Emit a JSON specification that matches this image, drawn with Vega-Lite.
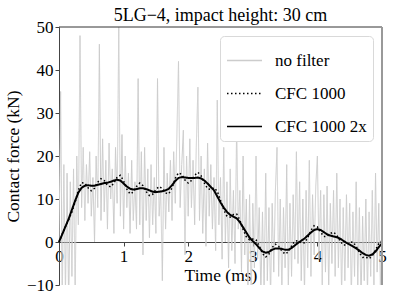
{
  "$schema": "https://vega.github.io/schema/vega-lite/v6.json",
  "width": 323,
  "height": 258,
  "autosize": "none",
  "padding": {"left": 59, "top": 27, "right": 13, "bottom": 19},
  "background": "white",
  "title": {"text": "5LG−4, impact height: 30 cm", "font": "Liberation Serif", "fontSize": 18, "fontWeight": "normal", "color": "black", "anchor": "middle", "offset": -21, "baseline": "alphabetic", "limit": 0},
  "config": {
    "view": {"stroke": null},
    "font": "Liberation Serif",
    "title": {"font": "Liberation Serif", "fontSize": 18, "fontWeight": "normal"},
    "axis": {"grid": false, "labelFont": "Liberation Serif", "labelFontSize": 17, "labelColor": "black", "titleFont": "Liberation Serif", "titleFontSize": 17.5, "titleFontWeight": "normal", "titleColor": "black", "domainColor": "#444", "tickColor": "#444", "tickSize": 4, "labelPadding": 2},
    "legend": {"orient": "top-right", "offset": 9, "fillColor": "white", "strokeColor": "#d9d9d9", "cornerRadius": 4, "padding": 6, "labelFont": "Liberation Serif", "labelFontSize": 17, "labelColor": "black", "symbolType": "stroke", "symbolSize": 1225, "symbolStrokeWidth": 1.5, "labelOffset": 12, "rowPadding": 6}
  },
  "datasets": {
    "raw": [
      {"t":0,"v":0},{"t":0.025,"v":35},{"t":0.05,"v":-14},{"t":0.075,"v":18},{"t":0.1,"v":-12},{"t":0.125,"v":16},{"t":0.15,"v":-15},{"t":0.175,"v":14},{"t":0.2,"v":-8},{"t":0.225,"v":17},{"t":0.25,"v":-12},{"t":0.275,"v":20},
      {"t":0.3,"v":4},{"t":0.325,"v":48},{"t":0.35,"v":8},{"t":0.375,"v":22},{"t":0.4,"v":5},{"t":0.425,"v":18},{"t":0.45,"v":9},{"t":0.475,"v":21},{"t":0.5,"v":6},{"t":0.525,"v":15},{"t":0.55,"v":0},{"t":0.575,"v":20},
      {"t":0.6,"v":8},{"t":0.625,"v":46},{"t":0.65,"v":5},{"t":0.675,"v":24},{"t":0.7,"v":7},{"t":0.725,"v":19},{"t":0.75,"v":3},{"t":0.775,"v":23},{"t":0.8,"v":10},{"t":0.825,"v":17},{"t":0.85,"v":2},{"t":0.875,"v":22},
      {"t":0.9,"v":9},{"t":0.925,"v":50},{"t":0.95,"v":6},{"t":0.975,"v":25},{"t":1.0,"v":3},{"t":1.025,"v":20},{"t":1.05,"v":8},{"t":1.075,"v":16},{"t":1.1,"v":2},{"t":1.125,"v":19},{"t":1.15,"v":5},{"t":1.175,"v":14},
      {"t":1.2,"v":3},{"t":1.225,"v":38},{"t":1.25,"v":4},{"t":1.275,"v":21},{"t":1.3,"v":-3},{"t":1.325,"v":22},{"t":1.35,"v":5},{"t":1.375,"v":17},{"t":1.4,"v":1},{"t":1.425,"v":18},{"t":1.45,"v":4},{"t":1.475,"v":15},
      {"t":1.5,"v":2},{"t":1.525,"v":38},{"t":1.55,"v":6},{"t":1.575,"v":12},{"t":1.6,"v":-9},{"t":1.625,"v":22},{"t":1.65,"v":3},{"t":1.675,"v":16},{"t":1.7,"v":7},{"t":1.725,"v":19},{"t":1.75,"v":5},{"t":1.775,"v":21},
      {"t":1.8,"v":9},{"t":1.825,"v":25},{"t":1.85,"v":42},{"t":1.875,"v":8},{"t":1.9,"v":18},{"t":1.925,"v":26},{"t":1.95,"v":-3},{"t":1.975,"v":20},{"t":2.0,"v":6},{"t":2.025,"v":24},{"t":2.05,"v":8},{"t":2.075,"v":19},
      {"t":2.1,"v":4},{"t":2.125,"v":22},{"t":2.15,"v":36},{"t":2.175,"v":5},{"t":2.2,"v":20},{"t":2.225,"v":2},{"t":2.25,"v":17},{"t":2.275,"v":-1},{"t":2.3,"v":23},{"t":2.325,"v":6},{"t":2.35,"v":18},{"t":2.375,"v":3},
      {"t":2.4,"v":15},{"t":2.425,"v":-2},{"t":2.45,"v":33},{"t":2.475,"v":4},{"t":2.5,"v":15},{"t":2.525,"v":-4},{"t":2.55,"v":22},{"t":2.575,"v":0},{"t":2.6,"v":14},{"t":2.625,"v":-6},{"t":2.65,"v":17},{"t":2.675,"v":-2},
      {"t":2.7,"v":12},{"t":2.725,"v":-5},{"t":2.75,"v":27},{"t":2.775,"v":3},{"t":2.8,"v":12},{"t":2.825,"v":-7},{"t":2.85,"v":20},{"t":2.875,"v":-3},{"t":2.9,"v":10},{"t":2.925,"v":-12},{"t":2.95,"v":11},{"t":2.975,"v":-13},
      {"t":3.0,"v":9},{"t":3.025,"v":-6},{"t":3.05,"v":20},{"t":3.075,"v":-4},{"t":3.1,"v":8},{"t":3.125,"v":-12},{"t":3.15,"v":7},{"t":3.175,"v":-11},{"t":3.2,"v":16},{"t":3.225,"v":-9},{"t":3.25,"v":8},{"t":3.275,"v":-13},
      {"t":3.3,"v":9},{"t":3.325,"v":-7},{"t":3.35,"v":12},{"t":3.375,"v":22},{"t":3.4,"v":-8},{"t":3.425,"v":10},{"t":3.45,"v":-12},{"t":3.475,"v":8},{"t":3.5,"v":-6},{"t":3.525,"v":18},{"t":3.55,"v":-11},{"t":3.575,"v":9},
      {"t":3.6,"v":-8},{"t":3.625,"v":11},{"t":3.65,"v":-4},{"t":3.675,"v":21},{"t":3.7,"v":-5},{"t":3.725,"v":14},{"t":3.75,"v":-9},{"t":3.775,"v":10},{"t":3.8,"v":-12},{"t":3.825,"v":12},{"t":3.85,"v":-6},{"t":3.875,"v":19},
      {"t":3.9,"v":-8},{"t":3.925,"v":11},{"t":3.95,"v":-3},{"t":3.975,"v":13},{"t":4.0,"v":20},{"t":4.025,"v":-4},{"t":4.05,"v":12},{"t":4.075,"v":-10},{"t":4.1,"v":11},{"t":4.125,"v":-7},{"t":4.15,"v":13},{"t":4.175,"v":-11},
      {"t":4.2,"v":9},{"t":4.225,"v":-5},{"t":4.25,"v":12},{"t":4.275,"v":-8},{"t":4.3,"v":16},{"t":4.325,"v":-6},{"t":4.35,"v":10},{"t":4.375,"v":-12},{"t":4.4,"v":8},{"t":4.425,"v":-9},{"t":4.45,"v":11},{"t":4.475,"v":-6},
      {"t":4.5,"v":9},{"t":4.525,"v":-13},{"t":4.55,"v":7},{"t":4.575,"v":-8},{"t":4.6,"v":14},{"t":4.625,"v":-10},{"t":4.65,"v":8},{"t":4.675,"v":-14},{"t":4.7,"v":6},{"t":4.725,"v":-9},{"t":4.75,"v":10},{"t":4.775,"v":-12},
      {"t":4.8,"v":7},{"t":4.825,"v":-8},{"t":4.85,"v":12},{"t":4.875,"v":-11},{"t":4.9,"v":16},{"t":4.925,"v":-7},{"t":4.95,"v":9},{"t":4.975,"v":-10},{"t":5.0,"v":2}
    ],
    "cfc": [
      {"t":0,"v":0},{"t":0.05,"v":1.8},{"t":0.1,"v":3.6},{"t":0.15,"v":5.2},{"t":0.2,"v":7.0},{"t":0.25,"v":9.3},{"t":0.3,"v":12.1},{"t":0.35,"v":13.8},{"t":0.4,"v":13.7},{"t":0.45,"v":12.6},
      {"t":0.5,"v":11.9},{"t":0.55,"v":12.5},{"t":0.6,"v":13.9},{"t":0.65,"v":14.7},{"t":0.7,"v":14.3},{"t":0.75,"v":13.2},{"t":0.8,"v":12.8},{"t":0.85,"v":13.7},{"t":0.9,"v":15.1},{"t":0.95,"v":15.5},
      {"t":1.0,"v":14.2},{"t":1.05,"v":12.3},{"t":1.1,"v":11.2},{"t":1.15,"v":11.6},{"t":1.2,"v":12.9},{"t":1.25,"v":13.7},{"t":1.3,"v":13.1},{"t":1.35,"v":11.7},{"t":1.4,"v":10.8},{"t":1.45,"v":11.1},
      {"t":1.5,"v":12.2},{"t":1.55,"v":12.9},{"t":1.6,"v":12.4},{"t":1.65,"v":11.4},{"t":1.7,"v":11.2},{"t":1.75,"v":12.6},{"t":1.8,"v":14.8},{"t":1.85,"v":16.1},{"t":1.9,"v":15.7},{"t":1.95,"v":14.4},
      {"t":2.0,"v":13.7},{"t":2.05,"v":14.3},{"t":2.1,"v":15.5},{"t":2.15,"v":16.2},{"t":2.2,"v":15.4},{"t":2.25,"v":13.7},{"t":2.3,"v":12.4},{"t":2.35,"v":12.2},{"t":2.4,"v":12.6},{"t":2.45,"v":11.8},
      {"t":2.5,"v":9.7},{"t":2.55,"v":7.5},{"t":2.6,"v":6.0},{"t":2.65,"v":5.8},{"t":2.7,"v":6.4},{"t":2.75,"v":6.5},{"t":2.8,"v":5.1},{"t":2.85,"v":2.9},{"t":2.9,"v":1.2},{"t":2.95,"v":0.5},
      {"t":3.0,"v":0.7},{"t":3.05,"v":0.5},{"t":3.1,"v":-0.9},{"t":3.15,"v":-2.7},{"t":3.2,"v":-3.5},{"t":3.25,"v":-2.8},{"t":3.3,"v":-1.3},{"t":3.35,"v":-0.5},{"t":3.4,"v":-1.0},{"t":3.45,"v":-2.1},
      {"t":3.5,"v":-2.8},{"t":3.55,"v":-2.3},{"t":3.6,"v":-0.9},{"t":3.65,"v":0.2},{"t":3.7,"v":0.3},{"t":3.75,"v":-0.2},{"t":3.8,"v":-0.2},{"t":3.85,"v":1.0},{"t":3.9,"v":2.7},{"t":3.95,"v":3.8},
      {"t":4.0,"v":3.5},{"t":4.05,"v":2.3},{"t":4.1,"v":1.3},{"t":4.15,"v":1.3},{"t":4.2,"v":2.0},{"t":4.25,"v":2.3},{"t":4.3,"v":1.6},{"t":4.35,"v":0.3},{"t":4.4,"v":-0.7},{"t":4.45,"v":-0.7},
      {"t":4.5,"v":-0.1},{"t":4.55,"v":0.0},{"t":4.6,"v":-1.0},{"t":4.65,"v":-2.5},{"t":4.7,"v":-3.6},{"t":4.75,"v":-3.5},{"t":4.8,"v":-3.9},{"t":4.85,"v":-3.2},{"t":4.9,"v":-1.8},{"t":4.95,"v":-0.4},{"t":5.0,"v":0.3}
    ],
    "cfc2": [
      {"t":0,"v":0},{"t":0.05,"v":1.8},{"t":0.1,"v":3.6},{"t":0.15,"v":5.4},{"t":0.2,"v":7.5},{"t":0.25,"v":9.6},{"t":0.3,"v":11.5},{"t":0.35,"v":12.6},{"t":0.4,"v":13.1},{"t":0.45,"v":13.2},
      {"t":0.5,"v":13.1},{"t":0.55,"v":13.1},{"t":0.6,"v":13.3},{"t":0.65,"v":13.5},{"t":0.7,"v":13.7},{"t":0.75,"v":13.8},{"t":0.8,"v":14.0},{"t":0.85,"v":14.3},{"t":0.9,"v":14.5},{"t":0.95,"v":14.3},
      {"t":1.0,"v":13.6},{"t":1.05,"v":12.9},{"t":1.1,"v":12.4},{"t":1.15,"v":12.2},{"t":1.2,"v":12.3},{"t":1.25,"v":12.5},{"t":1.3,"v":12.5},{"t":1.35,"v":12.3},{"t":1.4,"v":12.0},{"t":1.45,"v":11.7},
      {"t":1.5,"v":11.6},{"t":1.55,"v":11.7},{"t":1.6,"v":11.8},{"t":1.65,"v":12.0},{"t":1.7,"v":12.4},{"t":1.75,"v":13.2},{"t":1.8,"v":14.2},{"t":1.85,"v":14.9},{"t":1.9,"v":15.1},{"t":1.95,"v":15.0},
      {"t":2.0,"v":14.9},{"t":2.05,"v":14.9},{"t":2.1,"v":14.9},{"t":2.15,"v":15.0},{"t":2.2,"v":14.8},{"t":2.25,"v":14.3},{"t":2.3,"v":13.6},{"t":2.35,"v":12.8},{"t":2.4,"v":12.0},{"t":2.45,"v":10.6},
      {"t":2.5,"v":9.2},{"t":2.55,"v":8.0},{"t":2.6,"v":7.0},{"t":2.65,"v":6.3},{"t":2.7,"v":5.9},{"t":2.75,"v":5.5},{"t":2.8,"v":4.6},{"t":2.85,"v":3.4},{"t":2.9,"v":2.2},{"t":2.95,"v":1.0},
      {"t":3.0,"v":0.2},{"t":3.05,"v":-0.5},{"t":3.1,"v":-1.4},{"t":3.15,"v":-2.2},{"t":3.2,"v":-2.5},{"t":3.25,"v":-2.3},{"t":3.3,"v":-1.8},{"t":3.35,"v":-1.5},{"t":3.4,"v":-1.5},{"t":3.45,"v":-1.6},
      {"t":3.5,"v":-1.8},{"t":3.55,"v":-1.8},{"t":3.6,"v":-1.4},{"t":3.65,"v":-0.8},{"t":3.7,"v":-0.2},{"t":3.75,"v":0.3},{"t":3.8,"v":0.8},{"t":3.85,"v":1.5},{"t":3.9,"v":2.2},{"t":3.95,"v":2.8},
      {"t":4.0,"v":3.0},{"t":4.05,"v":2.8},{"t":4.1,"v":2.3},{"t":4.15,"v":1.8},{"t":4.2,"v":1.5},{"t":4.25,"v":1.3},{"t":4.3,"v":1.1},{"t":4.35,"v":0.8},{"t":4.4,"v":0.3},{"t":4.45,"v":-0.2},
      {"t":4.5,"v":-0.6},{"t":4.55,"v":-1.0},{"t":4.6,"v":-1.5},{"t":4.65,"v":-2.0},{"t":4.7,"v":-2.6},{"t":4.75,"v":-3.0},{"t":4.8,"v":-3.2},{"t":4.85,"v":-2.9},{"t":4.9,"v":-2.2},{"t":4.95,"v":-1.2},{"t":5.0,"v":-0.3}
    ],
    "frame": [{"a": 0}]
  },
  "layer": [
    {
      "data": {"name": "raw"},
      "mark": {"type": "line", "strokeWidth": 1, "clip": true},
      "encoding": {
        "x": {"field": "t", "type": "quantitative", "scale": {"domain": [0, 5], "nice": false, "zero": false}, "axis": {"title": "Time (ms)", "values": [0, 1, 2, 3, 4, 5], "format": "d", "offset": -43, "titlePadding": 2, "labelFlush": false}},
        "y": {"field": "v", "type": "quantitative", "scale": {"domain": [-10, 50], "nice": false, "zero": false}, "axis": {"title": "Contact force (kN)", "values": [-10, 0, 10, 20, 30, 40, 50], "format": "d", "titlePadding": 4}},
        "color": {"datum": "no filter", "scale": {"domain": ["no filter", "CFC 1000", "CFC 1000 2x"], "range": ["#cccccc", "black", "black"]}, "legend": {"title": null}},
        "strokeDash": {"datum": "no filter", "scale": {"domain": ["no filter", "CFC 1000", "CFC 1000 2x"], "range": [[1, 0], [1.5, 2.5], [1, 0]]}, "legend": {"title": null}}
      }
    },
    {
      "data": {"name": "cfc"},
      "mark": {"type": "line", "strokeWidth": 1.5},
      "encoding": {
        "x": {"field": "t", "type": "quantitative"},
        "y": {"field": "v", "type": "quantitative"},
        "color": {"datum": "CFC 1000"},
        "strokeDash": {"datum": "CFC 1000"}
      }
    },
    {
      "data": {"name": "cfc2"},
      "mark": {"type": "line", "strokeWidth": 2},
      "encoding": {
        "x": {"field": "t", "type": "quantitative"},
        "y": {"field": "v", "type": "quantitative"},
        "color": {"datum": "CFC 1000 2x"},
        "strokeDash": {"datum": "CFC 1000 2x"}
      }
    },
    {
      "data": {"name": "frame"},
      "mark": {"type": "rule", "color": "#333", "strokeWidth": 1},
      "encoding": {"x": {"datum": 0}, "x2": {"datum": 5}, "y": {"datum": 50}}
    },
    {
      "data": {"name": "frame"},
      "mark": {"type": "rule", "color": "#999", "strokeWidth": 2},
      "encoding": {"x": {"datum": 5}, "y": {"datum": -10}, "y2": {"datum": 50}}
    }
  ]
}
